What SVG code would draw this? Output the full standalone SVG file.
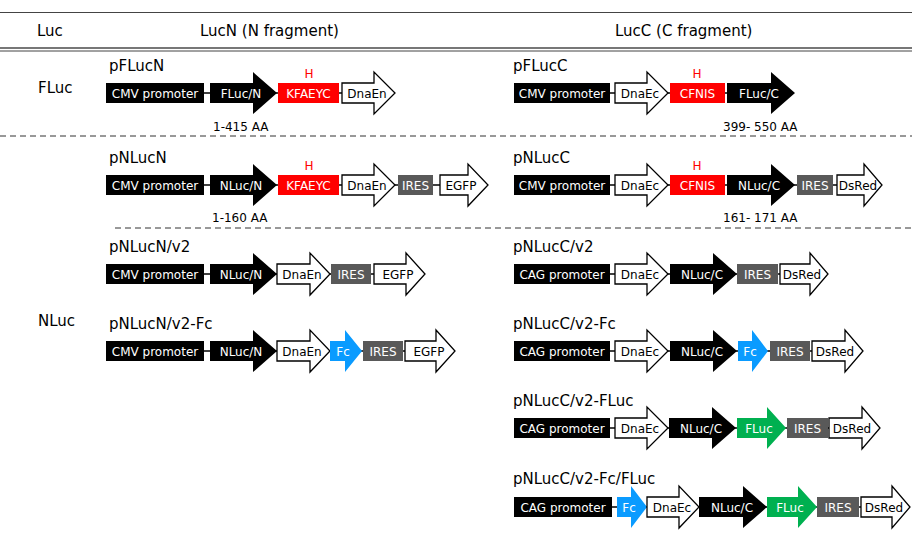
<svg xmlns="http://www.w3.org/2000/svg" width="912" height="535" viewBox="0 0 912 535">
<style>
text{font-family:"DejaVu Sans",Verdana,sans-serif}
.hd{font-size:15px;fill:#000}
.lbl{font-size:15px;fill:#000}
.t{font-size:12px;text-anchor:middle;fill:#fff}
.tk{font-size:12px;text-anchor:middle;fill:#000}
.aa{font-size:12px;fill:#000}
.h{font-size:12px;text-anchor:middle;fill:#f00}
.blk{fill:#000}
.red{fill:#ff0000}
.gry{fill:#595959}
.blu{fill:#0a9bff}
.grn{fill:#00b050}
.wht{fill:#fff;stroke:#000;stroke-width:1.3;stroke-linejoin:miter}
.bb{stroke:#000;stroke-width:1.3}
.rule{stroke:#444;stroke-width:1.2}
.dash{stroke:#333;stroke-width:1;stroke-dasharray:6 4}
</style>

<g id="table">
<line class="rule" x1="0" y1="12.5" x2="912" y2="12.5"/>
<text class="hd" x="37" y="36">Luc</text>
<text class="hd" x="200" y="36">LucN (N fragment)</text>
<text class="hd" x="615" y="36">LucC (C fragment)</text>
<line x1="0" y1="48" x2="912" y2="48" stroke="#777" stroke-width="2"/>
<line x1="0" y1="51" x2="912" y2="51" stroke="#444" stroke-width="1"/>
<text class="hd" x="38" y="93">FLuc</text>
<text class="hd" x="38" y="326">NLuc</text>
<line class="dash" x1="0" y1="136" x2="912" y2="136"/>
<line class="dash" x1="115" y1="228" x2="912" y2="228"/>
</g>

<g id="connectors">
<line class="bb" x1="204" y1="93" x2="342" y2="93"/>
<line class="bb" x1="610" y1="93" x2="727" y2="93"/>
<line class="bb" x1="204" y1="185" x2="440" y2="185"/>
<line class="bb" x1="610" y1="185" x2="837" y2="185"/>
<line class="bb" x1="204" y1="274" x2="374" y2="274"/>
<line class="bb" x1="610" y1="274" x2="780" y2="274"/>
<line class="bb" x1="204" y1="351" x2="405" y2="351"/>
<line class="bb" x1="610" y1="351" x2="812" y2="351"/>
<line class="bb" x1="610" y1="428" x2="829" y2="428"/>
<line class="bb" x1="612" y1="507" x2="861" y2="507"/>
</g>

<g id="pFLucN">
<text class="lbl" x="109" y="71">pFLucN</text>
<rect class="blk" x="106" y="83" width="98" height="20"/><text class="t" x="155" y="97.5">CMV promoter</text>
<path class="blk" d="M210 83H253V72L277 93L253 114V103H210Z"/><text class="t" x="241" y="97.5">FLuc/N</text>
<rect class="red" x="278" y="83" width="61" height="20"/><text class="t" x="308.5" y="97.5">KFAEYC</text>
<text class="h" x="309" y="78">H</text>
<path class="wht" d="M342 83H374V72L395 93L374 114V103H342Z"/><text class="tk" x="367" y="97.5">DnaEn</text>
<text class="aa" x="213" y="131">1-415 AA</text>
</g>

<g id="pFLucC">
<text class="lbl" x="513" y="71">pFLucC</text>
<rect class="blk" x="514" y="83" width="96" height="20"/><text class="t" x="562" y="97.5">CMV promoter</text>
<path class="wht" d="M615 83H647V72L668 93L647 114V103H615Z"/><text class="tk" x="640" y="97.5">DnaEc</text>
<rect class="red" x="670" y="83" width="55" height="20"/><text class="t" x="697.5" y="97.5">CFNIS</text>
<text class="h" x="697" y="78">H</text>
<path class="blk" d="M727 83H771V72L795 93L771 114V103H727Z"/><text class="t" x="759" y="97.5">FLuc/C</text>
<text class="aa" x="723" y="131">399- 550 AA</text>
</g>

<g id="pNLucN">
<text class="lbl" x="109" y="163">pNLucN</text>
<rect class="blk" x="106" y="175" width="98" height="20"/><text class="t" x="155" y="189.5">CMV promoter</text>
<path class="blk" d="M210 175H253V164L277 185L253 206V195H210Z"/><text class="t" x="241" y="189.5">NLuc/N</text>
<rect class="red" x="278" y="175" width="61" height="20"/><text class="t" x="308.5" y="189.5">KFAEYC</text>
<text class="h" x="309" y="170">H</text>
<path class="wht" d="M342 175H374V164L395 185L374 206V195H342Z"/><text class="tk" x="367" y="189.5">DnaEn</text>
<rect class="gry" x="398" y="175" width="35" height="20"/><text class="t" x="415.5" y="189.5">IRES</text>
<path class="wht" d="M440 175H468V164L488 185L468 206V195H440Z"/><text class="tk" x="461" y="189.5">EGFP</text>
<text class="aa" x="212" y="222">1-160 AA</text>
</g>

<g id="pNLucC">
<text class="lbl" x="513" y="163">pNLucC</text>
<rect class="blk" x="514" y="175" width="96" height="20"/><text class="t" x="562" y="189.5">CMV promoter</text>
<path class="wht" d="M615 175H647V164L668 185L647 206V195H615Z"/><text class="tk" x="640" y="189.5">DnaEc</text>
<rect class="red" x="670" y="175" width="55" height="20"/><text class="t" x="697.5" y="189.5">CFNIS</text>
<text class="h" x="697" y="170">H</text>
<path class="blk" d="M727 175H771V164L795 185L771 206V195H727Z"/><text class="t" x="759" y="189.5">NLuc/C</text>
<rect class="gry" x="797" y="175" width="36" height="20"/><text class="t" x="815" y="189.5">IRES</text>
<path class="wht" d="M837 175H864V164L882 185L864 206V195H837Z"/><text class="tk" x="858" y="189.5">DsRed</text>
<text class="aa" x="723" y="222">161- 171 AA</text>
</g>

<g id="pNLucN-v2">
<text class="lbl" x="109" y="252">pNLucN/v2</text>
<rect class="blk" x="106" y="264" width="98" height="20"/><text class="t" x="155" y="278.5">CMV promoter</text>
<path class="blk" d="M210 264H253V253L277 274L253 295V284H210Z"/><text class="t" x="241" y="278.5">NLuc/N</text>
<path class="wht" d="M277 264H310V253L330 274L310 295V284H277Z"/><text class="tk" x="302" y="278.5">DnaEn</text>
<rect class="gry" x="331" y="264" width="40" height="20"/><text class="t" x="351" y="278.5">IRES</text>
<path class="wht" d="M374 264H406V253L425 274L406 295V284H374Z"/><text class="tk" x="398" y="278.5">EGFP</text>
</g>

<g id="pNLucC-v2">
<text class="lbl" x="513" y="252">pNLucC/v2</text>
<rect class="blk" x="514" y="264" width="96" height="20"/><text class="t" x="562" y="278.5">CAG promoter</text>
<path class="wht" d="M615 264H647V253L668 274L647 295V284H615Z"/><text class="tk" x="640" y="278.5">DnaEc</text>
<path class="blk" d="M670 264H713V253L737 274L713 295V284H670Z"/><text class="t" x="702" y="278.5">NLuc/C</text>
<rect class="gry" x="737" y="264" width="41" height="20"/><text class="t" x="757.5" y="278.5">IRES</text>
<path class="wht" d="M780 264H810V253L828 274L810 295V284H780Z"/><text class="tk" x="802" y="278.5">DsRed</text>
</g>

<g id="pNLucN-v2-Fc">
<text class="lbl" x="109" y="329">pNLucN/v2-Fc</text>
<rect class="blk" x="106" y="341" width="98" height="20"/><text class="t" x="155" y="355.5">CMV promoter</text>
<path class="blk" d="M210 341H253V330L277 351L253 372V361H210Z"/><text class="t" x="241" y="355.5">NLuc/N</text>
<path class="wht" d="M277 341H310V330L330 351L310 372V361H277Z"/><text class="tk" x="302" y="355.5">DnaEn</text>
<path class="blu" d="M330 341H345V330L362 351L345 372V361H330Z"/><text class="t" x="343" y="355.5">Fc</text>
<rect class="gry" x="363" y="341" width="40" height="20"/><text class="t" x="383" y="355.5">IRES</text>
<path class="wht" d="M405 341H436V330L455 351L436 372V361H405Z"/><text class="tk" x="429" y="355.5">EGFP</text>
</g>

<g id="pNLucC-v2-Fc">
<text class="lbl" x="513" y="329">pNLucC/v2-Fc</text>
<rect class="blk" x="514" y="341" width="96" height="20"/><text class="t" x="562" y="355.5">CAG promoter</text>
<path class="wht" d="M615 341H647V330L668 351L647 372V361H615Z"/><text class="tk" x="640" y="355.5">DnaEc</text>
<path class="blk" d="M670 341H713V330L737 351L713 372V361H670Z"/><text class="t" x="702" y="355.5">NLuc/C</text>
<path class="blu" d="M738 341H752V330L768 351L752 372V361H738Z"/><text class="t" x="750" y="355.5">Fc</text>
<rect class="gry" x="770" y="341" width="40" height="20"/><text class="t" x="790" y="355.5">IRES</text>
<path class="wht" d="M812 341H845V330L863 351L845 372V361H812Z"/><text class="tk" x="835" y="355.5">DsRed</text>
</g>

<g id="pNLucC-v2-FLuc">
<text class="lbl" x="513" y="406">pNLucC/v2-FLuc</text>
<rect class="blk" x="514" y="418" width="96" height="20"/><text class="t" x="562" y="432.5">CAG promoter</text>
<path class="wht" d="M615 418H647V407L668 428L647 449V438H615Z"/><text class="tk" x="640" y="432.5">DnaEc</text>
<path class="blk" d="M669 418H712V407L736 428L712 449V438H669Z"/><text class="t" x="701" y="432.5">NLuc/C</text>
<path class="grn" d="M737 418H767V407L786 428L767 449V438H737Z"/><text class="t" x="759" y="432.5">FLuc</text>
<rect class="gry" x="787" y="418" width="41" height="20"/><text class="t" x="807.5" y="432.5">IRES</text>
<path class="wht" d="M829 418H862V407L880 428L862 449V438H829Z"/><text class="tk" x="852" y="432.5">DsRed</text>
</g>

<g id="pNLucC-v2-Fc-FLuc">
<text class="lbl" x="513" y="484">pNLucC/v2-Fc/FLuc</text>
<rect class="blk" x="514" y="497" width="98" height="20"/><text class="t" x="563" y="511.5">CAG promoter</text>
<path class="blu" d="M617 497H631V486L647 507L631 528V517H617Z"/><text class="t" x="629" y="511.5">Fc</text>
<path class="wht" d="M647 497H679V486L699 507L679 528V517H647Z"/><text class="tk" x="672" y="511.5">DnaEc</text>
<path class="blk" d="M699 497H743V486L767 507L743 528V517H699Z"/><text class="t" x="732" y="511.5">NLuc/C</text>
<path class="grn" d="M767 497H798V486L817 507L798 528V517H767Z"/><text class="t" x="790" y="511.5">FLuc</text>
<rect class="gry" x="817" y="497" width="42" height="20"/><text class="t" x="838" y="511.5">IRES</text>
<path class="wht" d="M861 497H892V486L910 507L892 528V517H861Z"/><text class="tk" x="884" y="511.5">DsRed</text>
</g>
</svg>
